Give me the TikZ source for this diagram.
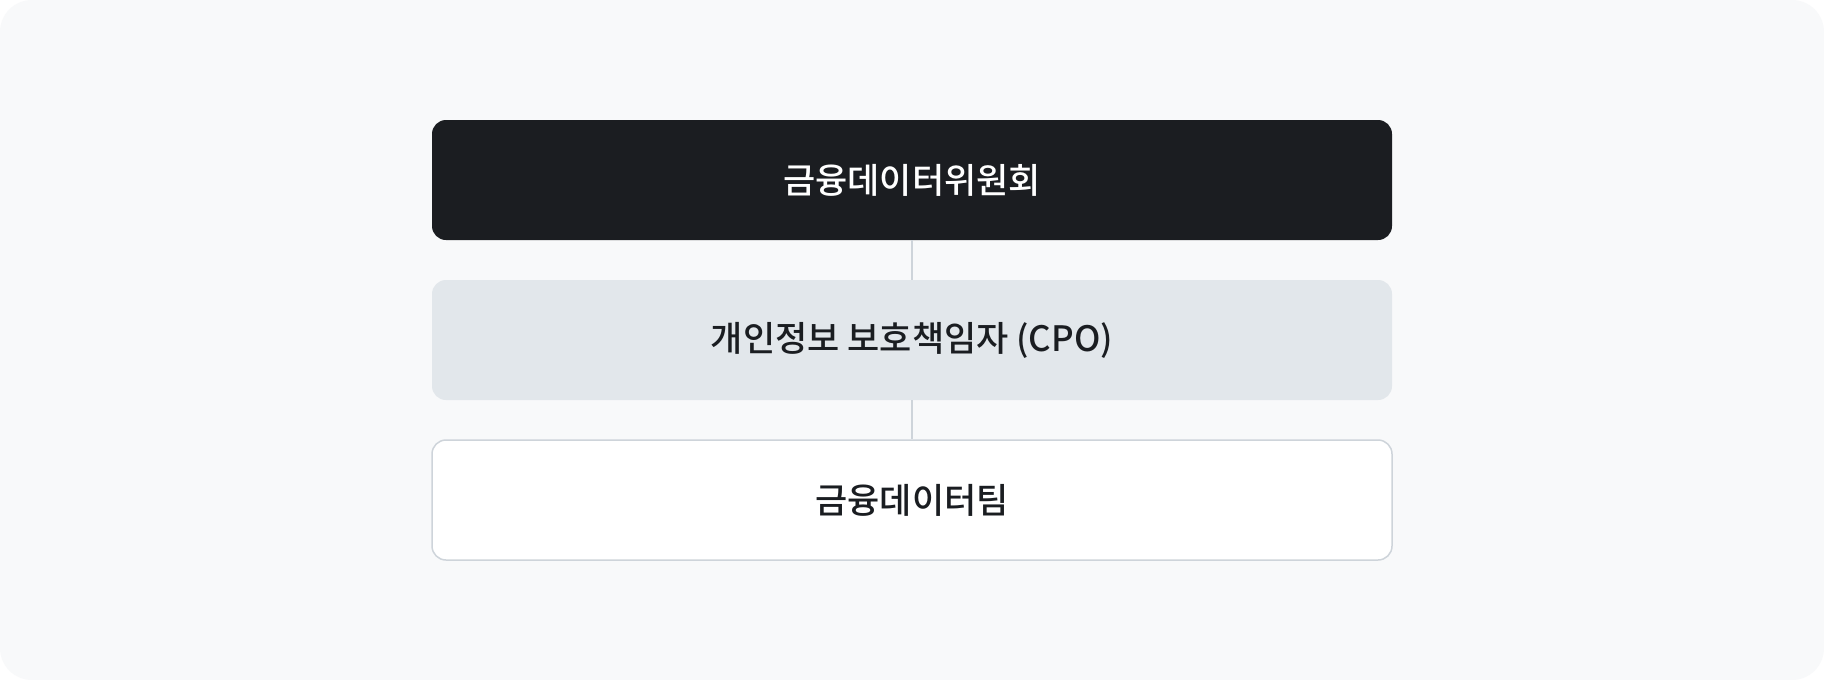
\documentclass[tikz,border=0pt]{standalone}
\usepackage{fontspec}
\newfontfamily\kr{Noto Sans CJK KR Medium}
\definecolor{bgc}{HTML}{F8F9FA}
\definecolor{darkc}{HTML}{1B1D21}
\definecolor{midc}{HTML}{E2E7EB}
\definecolor{linec}{HTML}{CED4DA}
\definecolor{textc}{HTML}{1A1D21}
\tikzset{
  orgbox/.style={rounded corners=14pt, minimum width=960pt, minimum height=120pt, inner sep=0pt, font=\kr\fontsize{35}{41}\selectfont},
  topbox/.style={orgbox, fill=darkc, text=white},
  cpobox/.style={orgbox, fill=midc, text=textc},
  teambox/.style={orgbox, fill=white, draw=linec, line width=1.5pt, text=textc},
  link/.style={draw=linec, line width=1.5pt}
}
\begin{document}
\begin{tikzpicture}[x=1pt,y=-1pt]
\useasboundingbox (0,0) rectangle (1824,680);
\fill[white] (0,0) rectangle (1824,680);
\fill[bgc, rounded corners=32pt] (0,0) rectangle (1824,680);
\node[topbox] (top) at (912,180) {금융데이터위원회};
\node[cpobox] (cpo) at (912,340) {개인정보 보호책임자 (CPO)};
\node[teambox] (team) at (912,500) {금융데이터팀};
\draw[link] (top.south) -- (cpo.north);
\draw[link] (cpo.south) -- (team.north);
\end{tikzpicture}
\end{document}
